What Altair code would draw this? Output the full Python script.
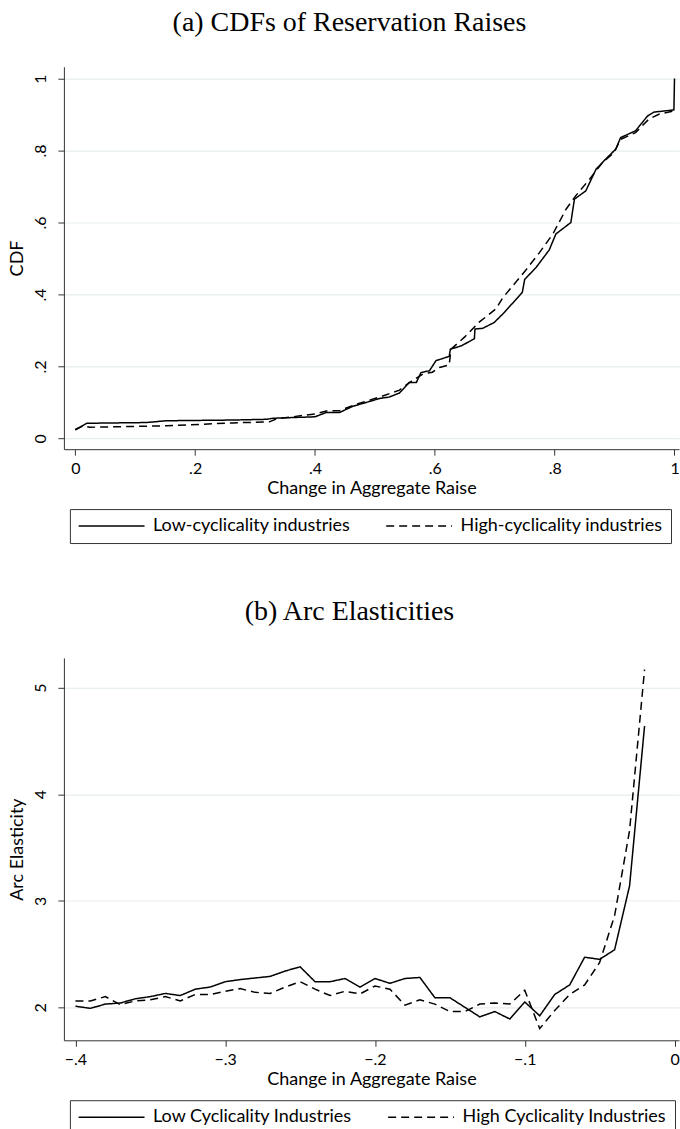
import altair as alt
import pandas as pd

# ---------------- Panel (a): CDFs of Reservation Raises ----------------
cdf_low_x = [0.000, 0.019, 0.118, 0.152, 0.263, 0.319, 0.330, 0.400, 0.419, 0.441,
             0.463, 0.496, 0.508, 0.524, 0.541, 0.557, 0.569, 0.577, 0.591, 0.602,
             0.624, 0.626, 0.644, 0.666, 0.667, 0.680, 0.699, 0.716, 0.746, 0.750,
             0.769, 0.791, 0.802, 0.827, 0.833, 0.852, 0.869, 0.885, 0.902, 0.910,
             0.935, 0.955, 0.966, 0.999, 1.000]
cdf_low_y = [0.024, 0.042, 0.044, 0.049, 0.051, 0.053, 0.056, 0.060, 0.072, 0.072,
             0.089, 0.105, 0.111, 0.115, 0.126, 0.155, 0.155, 0.183, 0.188, 0.216,
             0.228, 0.248, 0.257, 0.277, 0.304, 0.306, 0.322, 0.350, 0.406, 0.442,
             0.475, 0.524, 0.568, 0.600, 0.665, 0.688, 0.748, 0.776, 0.804, 0.836,
             0.855, 0.896, 0.907, 0.913, 1.000]

cdf_high_x = [0.000, 0.013, 0.024, 0.152, 0.263, 0.324, 0.335, 0.400, 0.419, 0.441,
              0.469, 0.508, 0.541, 0.560, 0.580, 0.596, 0.608, 0.624, 0.627, 0.650,
              0.674, 0.702, 0.713, 0.730, 0.752, 0.774, 0.797, 0.819, 0.835, 0.858,
              0.880, 0.899, 0.910, 0.935, 0.957, 0.974, 0.999]
cdf_high_y = [0.024, 0.035, 0.031, 0.035, 0.043, 0.046, 0.054, 0.068, 0.076, 0.077,
              0.095, 0.115, 0.134, 0.158, 0.179, 0.184, 0.197, 0.204, 0.248, 0.282,
              0.323, 0.360, 0.390, 0.424, 0.468, 0.515, 0.568, 0.637, 0.674, 0.720,
              0.767, 0.794, 0.831, 0.850, 0.887, 0.901, 0.910]

labels_a = ["Low-cyclicality industries", "High-cyclicality industries"]

# ---------------- Panel (b): Arc Elasticities ----------------
arc_x = [-0.40, -0.39, -0.38, -0.37, -0.36, -0.35, -0.34, -0.33, -0.32, -0.31,
         -0.30, -0.29, -0.28, -0.27, -0.26, -0.25, -0.24, -0.23, -0.22, -0.21,
         -0.20, -0.19, -0.18, -0.17, -0.16, -0.15, -0.14, -0.13, -0.12, -0.11,
         -0.10, -0.09, -0.08, -0.07, -0.06, -0.05, -0.04, -0.03, -0.02]
arc_low = [2.01, 1.99, 2.03, 2.04, 2.08, 2.10, 2.13, 2.11, 2.17, 2.19,
           2.24, 2.26, 2.275, 2.29, 2.34, 2.38, 2.24, 2.24, 2.27, 2.19,
           2.27, 2.225, 2.27, 2.28, 2.09, 2.09, 2.00, 1.91, 1.96, 1.89,
           2.05, 1.92, 2.12, 2.21, 2.47, 2.45, 2.54, 3.14, 4.64]
arc_high = [2.06, 2.06, 2.10, 2.025, 2.06, 2.07, 2.10, 2.06, 2.12, 2.12,
            2.15, 2.175, 2.14, 2.13, 2.19, 2.24, 2.17, 2.11, 2.15, 2.125,
            2.20, 2.17, 2.02, 2.07, 2.03, 1.96, 1.96, 2.03, 2.04, 2.03,
            2.16, 1.80, 1.97, 2.12, 2.21, 2.42, 2.86, 3.66, 5.17]

labels_b = ["Low Cyclicality Industries", "High Cyclicality Industries"]

xticks_a = [0, 0.2, 0.4, 0.6, 0.8, 1]
yticks_a = [0, 0.2, 0.4, 0.6, 0.8, 1]
xticks_b = [-0.4, -0.3, -0.2, -0.1, 0]
yticks_b = [2, 3, 4, 5]


def make_df(xs_list, ys_list, names):
    rows = []
    for xs, ys, name in zip(xs_list, ys_list, names):
        for i, (xv, yv) in enumerate(zip(xs, ys)):
            rows.append({"x": xv, "y": yv, "series": name, "idx": i})
    return pd.DataFrame(rows)


df_a = make_df([cdf_low_x, cdf_high_x], [cdf_low_y, cdf_high_y], labels_a)
df_b = make_df([arc_x, arc_x], [arc_low, arc_high], labels_b)

LABEL_EXPR = ("datum.value == 0 ? '0' : (datum.value == 1 ? '1' : "
              "replace(format(datum.value, '.1f'), '0.', '.'))")

SANS = "Lato"
SERIF = "Liberation Serif"


def panel(df, title, labels, xdom, ydom, xvals, yvals, ytitle, ylabexpr, h, toff):
    dash = alt.StrokeDash(
        "series:N",
        scale=alt.Scale(domain=labels, range=[[1, 0], [8, 5]]),
        legend=alt.Legend(
            title=None, orient="none", legendX=6, legendY=h + 60,
            direction="horizontal", columns=2,
            symbolType="M-4,0H4", symbolSize=272, symbolStrokeWidth=1.5,
            symbolStrokeColor="black", symbolOffset=24.75,
            labelFont=SANS, labelFontSize=18, labelColor="black",
            labelOffset=32.5, columnPadding=32, padding=8,
            strokeColor="#333333", labelLimit=400,
        ),
    )
    return (
        alt.Chart(df)
        .mark_line(color="black", strokeWidth=1.5, clip=True)
        .encode(
            x=alt.X("x:Q",
                    scale=alt.Scale(domain=xdom, nice=False, zero=False),
                    axis=alt.Axis(values=xvals, labelExpr=LABEL_EXPR,
                                  title="Change in Aggregate Raise", grid=False,
                                  tickSize=6, labelPadding=5, titlePadding=3)),
            y=alt.Y("y:Q",
                    scale=alt.Scale(domain=ydom, nice=False, zero=False),
                    axis=alt.Axis(values=yvals, labelExpr=ylabexpr, title=ytitle,
                                  grid=True, tickSize=6, labelAngle=270,
                                  labelAlign="center", labelBaseline="bottom",
                                  labelPadding=9, titlePadding=6)),
            strokeDash=dash,
            order=alt.Order("idx:Q"),
        )
        .properties(
            width=616, height=h,
            title=alt.TitleParams(title, font=SERIF, fontSize=28, fontWeight="normal",
                                  color="black", anchor="middle", frame="group",
                                  dx=-22, offset=toff),
        )
    )


top = panel(df_a, "(a) CDFs of Reservation Raises", labels_a,
            [-0.019, 1.0075], [-0.030, 1.033], xticks_a, yticks_a, "CDF", LABEL_EXPR,
            383, 30)
bottom = panel(df_b, "(b) Arc Elasticities", labels_b,
               [-0.4077, 0.003], [1.69, 5.28], xticks_b, yticks_b, "Arc Elasticity",
               "format(datum.value, 'd')", 383, 32)

chart = (
    alt.vconcat(top, bottom, spacing=54)
    .resolve_scale(strokeDash="independent", x="independent", y="independent")
    .resolve_legend(strokeDash="independent")
    .properties(padding={"left": 8, "top": 8, "right": 0, "bottom": 0},
                background="white")
    .configure_view(stroke=None)
    .configure_axis(
        domainColor="#333333", tickColor="#333333", domainWidth=1, tickWidth=1,
        labelFont=SANS, labelFontSize=16, labelColor="black",
        titleFont=SANS, titleFontSize=18, titleFontWeight="normal", titleColor="black",
        gridColor="#e6eef0", gridWidth=1.2,
    )
)

chart.save("out.html", embed_options={"renderer": "svg", "actions": False})
